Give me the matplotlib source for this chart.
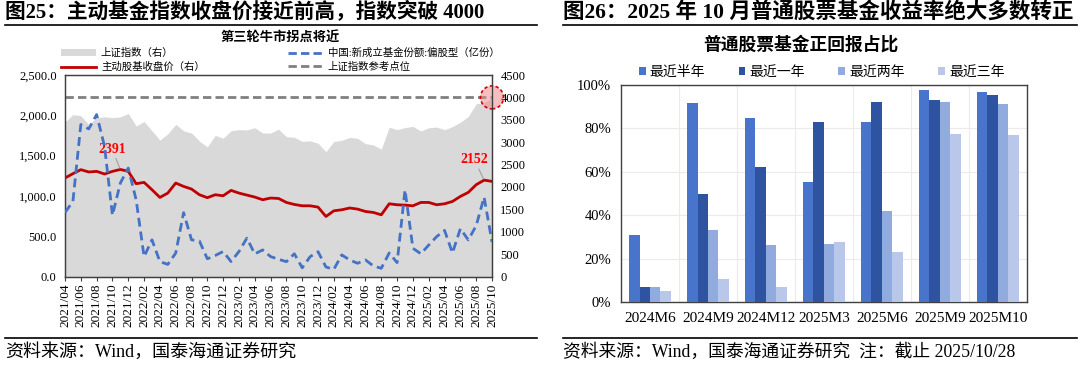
import numpy as np
import matplotlib
matplotlib.use('Agg')
import matplotlib.pyplot as plt
from matplotlib.lines import Line2D
from matplotlib.patches import Patch, Ellipse

# Fontes: serifada para latim, CJK como reserva
FAM = ['Liberation Serif', 'Noto Sans CJK SC']
plt.rcParams['font.family'] = FAM
plt.rcParams['axes.unicode_minus'] = False

# ---- Dados do gráfico da esquerda (mensal 2021/04 - 2025/10)
meses = []
for ano in range(2021, 2026):
    for m in range(1, 13):
        if (ano == 2021 and m < 4) or (ano == 2025 and m > 10):
            continue
        meses.append(f"{ano}/{m:02d}")

sh_indice = [3447, 3615, 3591, 3397, 3544, 3568, 3547, 3564, 3640,
             3361, 3462, 3253, 3047, 3186, 3399, 3253, 3202, 3024, 2893, 3151, 3089,
             3255, 3280, 3273, 3323, 3205, 3202, 3291, 3120, 3110, 3018, 3030, 2975,
             2789, 3015, 3041, 3105, 3087, 2967, 2939, 2842, 3336, 3280, 3326, 3352,
             3250, 3321, 3336, 3279, 3347, 3444, 3573, 3858, 3883, 3988]

fundo_ativo = [2200, 2296, 2386, 2334, 2348, 2289, 2348, 2391, 2348, 2072,
               2102, 1938, 1766, 1863, 2087, 2012, 1953, 1826, 1760, 1826,
               1803, 1923, 1863, 1818, 1774, 1714, 1752, 1743, 1654, 1609,
               1579, 1579, 1550, 1340, 1467, 1490, 1530, 1505, 1452, 1430,
               1378, 1624, 1602, 1594, 1579, 1654, 1654, 1602, 1624, 1676,
               1788, 1878, 2050, 2152, 2124]

novos_fundos = [794, 931, 1885, 1831, 2009, 1615, 760, 1159, 1346, 950,
                246, 455, 185, 150, 290, 792, 455, 440, 220, 260,
                310, 185, 310, 476, 280, 330, 247, 214, 184, 282,
                108, 246, 308, 118, 89, 268, 205, 164, 205, 131,
                102, 292, 172, 1075, 350, 282, 390, 495, 572, 292,
                593, 454, 630, 985, 428]

ref_nivel = 4000

# ---- Dados do gráfico da direita
categorias = ['2024M6', '2024M9', '2024M12', '2025M3', '2025M6', '2025M9', '2025M10']
series_nomes = ['最近半年', '最近一年', '最近两年', '最近三年']
meio_ano = [0.308, 0.916, 0.848, 0.555, 0.828, 0.976, 0.968]
um_ano = [0.072, 0.500, 0.622, 0.832, 0.924, 0.929, 0.953]
dois_anos = [0.072, 0.334, 0.265, 0.270, 0.421, 0.921, 0.913]
tres_anos = [0.054, 0.107, 0.070, 0.279, 0.231, 0.775, 0.769]

W, H = 1080, 370
fig = plt.figure(figsize=(W / 100, H / 100), dpi=100)


def fx(px):
    return px / W


def fy(py):
    return 1 - py / H


# ---- Títulos e linhas de cabeçalho/rodapé
fig.text(fx(5), fy(12), '图25：主动基金指数收盘价接近前高，指数突破 4000',
         fontsize=14.9, fontweight='bold', va='center', ha='left')
fig.text(fx(563), fy(12), '图26：2025 年 10 月普通股票基金收益率绝大多数转正',
         fontsize=15.5, fontweight='bold', va='center', ha='left')
for x0, x1 in [(5, 537), (563, 1077)]:
    fig.add_artist(Line2D([fx(x0), fx(x1)], [fy(25), fy(25)], color='black', lw=1.2))
    fig.add_artist(Line2D([fx(x0), fx(x1)], [fy(338), fy(338)], color='black', lw=1.2))
fig.text(fx(5), fy(352), '资料来源：Wind，国泰海通证券研究', fontsize=13, va='center')
fig.text(fx(563), fy(352), '资料来源：Wind，国泰海通证券研究  注：截止 2025/10/28',
         fontsize=12.8, va='center')

# ---- Gráfico da esquerda
x = np.arange(len(meses))
ax = fig.add_axes([fx(65), fy(276.5), fx(492) - fx(65), fy(75) - fy(276.5)])
ax2 = ax.twinx()
ax.set_zorder(ax2.get_zorder() + 1)
ax.patch.set_visible(False)

cinza = '#D9D9D9'
ax2.fill_between(x, sh_indice, 0, color=cinza, lw=0, zorder=1)
ax2.plot(x, fundo_ativo, color='#C00000', lw=2, zorder=3)
ax2.axhline(ref_nivel, color='#808080', lw=2, ls=(0, (3, 1.5)), zorder=2)
ax.plot(x, novos_fundos, color='#4472C4', lw=2, ls=(0, (3.2, 1.8)), zorder=4)

ax.set_xlim(0, len(meses) - 1)
ax.set_ylim(0, 2500)
ax2.set_ylim(0, 4500)
ax.set_yticks(np.arange(0, 2501, 500))
ax.set_yticklabels([f'{v:,.1f}' for v in np.arange(0, 2501, 500)], fontsize=9)
ax2.set_yticks(np.arange(0, 4501, 500))
ax2.set_yticklabels([str(v) for v in np.arange(0, 4501, 500)], fontsize=9)
ax.set_xticks(x[::2])
ax.set_xticklabels(meses[::2], rotation=90, fontsize=9.5)
ax.tick_params(axis='x', length=3, pad=2, color='#404040')
ax.tick_params(axis='y', length=0, pad=6)
ax2.tick_params(axis='y', length=0, pad=6)
ax2.set_xticks(x[::2])
ax2.grid(axis='x', color='#EDEDED', lw=0.8)
ax2.set_axisbelow(True)
for a in (ax, ax2):
    for s in a.spines.values():
        s.set_color('#404040')
        s.set_linewidth(0.9)

# destaques
ax2.annotate('2391', xy=(7, 2391), xytext=(-6, 10), textcoords='offset points',
             ha='center', va='bottom', color='red', fontweight='bold', fontsize=10,
             arrowprops=dict(arrowstyle='-', color='#A0A0A0', lw=0.8, shrinkA=0, shrinkB=1),
             zorder=6)
ax2.annotate('2152', xy=(53, 2152), xytext=(-7, 10), textcoords='offset points',
             ha='center', va='bottom', color='red', fontweight='bold', fontsize=10,
             arrowprops=dict(arrowstyle='-', color='#A0A0A0', lw=0.8, shrinkA=0, shrinkB=1),
             zorder=6)
circ = Ellipse((1.0, ref_nivel / 4500), 23 / 427, 23 / 201.5, transform=ax2.transAxes,
               facecolor=(0.93, 0.55, 0.55, 0.55), edgecolor='#D00000', ls=(0, (2, 1.5)),
               lw=1.2, clip_on=False, zorder=7)
ax2.add_patch(circ)

fig.text(fx(280), fy(38), '第三轮牛市拐点将近', fontsize=9.5, fontweight='bold',
         ha='center', va='center')
handles = [Patch(facecolor=cinza, edgecolor='none'),
           Line2D([], [], color='#C00000', lw=2),
           Line2D([], [], color='#4472C4', lw=2, ls=(0, (3, 1.5))),
           Line2D([], [], color='#808080', lw=2, ls=(0, (3, 1.5)))]
labels = ['上证指数（右）', '主动股基收盘价（右）', '中国:新成立基金份额:偏股型（亿份）', '上证指数参考点位']
fig.legend(handles, labels, ncol=2, loc='center left', bbox_to_anchor=(fx(52), fy(60)),
           frameon=False, fontsize=7.5, handlelength=3.3, handleheight=0.6,
           columnspacing=8.0, labelspacing=0.35, handletextpad=0.5)

# ---- Gráfico da direita
bx = fig.add_axes([fx(621), fy(302.3), fx(1026.7) - fx(621), fy(85) - fy(302.3)])
cores = ['#4874CB', '#2E54A1', '#91ABDE', '#B8C7EA']
pos = np.arange(len(categorias))
larg = 0.18
for k, (vals, cor, nome) in enumerate(zip([meio_ano, um_ano, dois_anos, tres_anos], cores, series_nomes)):
    bx.bar(pos + (k - 1.5) * larg, vals, width=larg, color=cor, label=nome, zorder=3)
bx.set_xlim(-0.5, len(categorias) - 0.5)
bx.set_ylim(0, 1.0)
bx.set_yticks(np.arange(0, 1.01, 0.2))
bx.set_yticklabels([f'{int(round(v * 100))}%' for v in np.arange(0, 1.01, 0.2)], fontsize=10.5)
bx.set_xticks(pos)
bx.set_xticklabels(categorias, fontsize=11)
bx.tick_params(length=0, pad=7)
bx.grid(axis='y', color='#EBEBEB', lw=0.8, zorder=0)
for b in np.arange(0.5, len(categorias) - 0.5, 1):
    bx.axvline(b, color='#EBEBEB', lw=0.8, zorder=0)
for s in bx.spines.values():
    s.set_color('#404040')
    s.set_linewidth(1)

fig.text(fx(801), fy(45), '普通股票基金正回报占比', fontsize=12.8, fontweight='bold',
         ha='center', va='center')
bx.legend(ncol=4, loc='center', bbox_to_anchor=(0.495, 1.0 + 13 / 217.3), frameon=False,
          fontsize=10, handlelength=0.5, handleheight=0.5, handletextpad=0.3,
          columnspacing=2.4, borderaxespad=0)

fig.savefig('out.png', dpi=100)
